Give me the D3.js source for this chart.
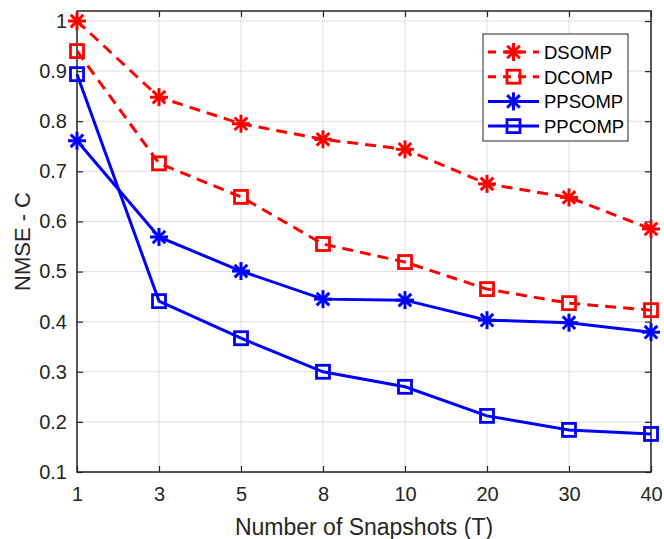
<!DOCTYPE html>
<html><head><meta charset="utf-8">
<script src="https://cdn.jsdelivr.net/npm/d3@7"></script>
<style>body{margin:0;background:#fff;} text{font-family:"Liberation Sans",Arial,sans-serif;}</style>
</head><body>
<svg id="c" width="664" height="539"></svg>
<script>
const categories = ["1","3","5","8","10","20","30","40"];
const dsomp  = [1.000,0.848,0.795,0.764,0.744,0.675,0.648,0.585];
const dcomp  = [0.940,0.716,0.649,0.555,0.519,0.465,0.437,0.423];
const ppsomp = [0.761,0.569,0.501,0.445,0.443,0.403,0.398,0.379];
const ppcomp = [0.894,0.441,0.367,0.300,0.270,0.212,0.184,0.176];
const yTicks = [0.1,0.2,0.3,0.4,0.5,0.6,0.7,0.8,0.9,1];
const seriesNames = ["DSOMP","DCOMP","PPSOMP","PPCOMP"];

const series = [
  {name:seriesNames[0], values:dsomp,  color:"#ff0000", dash:"11,7", marker:"star"},
  {name:seriesNames[1], values:dcomp,  color:"#ff0000", dash:"11,7", marker:"square"},
  {name:seriesNames[2], values:ppsomp, color:"#0000ff", dash:null,   marker:"star"},
  {name:seriesNames[3], values:ppcomp, color:"#0000ff", dash:null,   marker:"square"}
];

const svg = d3.select("#c");
const L=77, R=651, T=11, B=472;
const x = d3.scalePoint().domain(categories).range([L,R]);
const y = d3.scaleLinear().domain([0.1,1.02]).range([B,T]);
const axisColor="#262626";

// grid
const g = svg.append("g");
g.selectAll(".gx").data(categories).enter().append("line")
  .attr("x1",d=>x(d)).attr("x2",d=>x(d)).attr("y1",T).attr("y2",B)
  .attr("stroke","#dfdfdf").attr("stroke-width",1);
g.selectAll(".gy").data(yTicks).enter().append("line")
  .attr("x1",L).attr("x2",R).attr("y1",d=>y(d)).attr("y2",d=>y(d))
  .attr("stroke","#dfdfdf").attr("stroke-width",1);

// axes
const xAxis = d3.axisBottom(x).tickSizeInner(-6).tickSizeOuter(0).tickPadding(15);
const yAxis = d3.axisLeft(y).tickValues(yTicks).tickFormat(d3.format("")).tickSizeInner(-6).tickSizeOuter(0).tickPadding(10);
const gx = svg.append("g").attr("transform",`translate(0,${B})`).call(xAxis);
const gy = svg.append("g").attr("transform",`translate(${L},0)`).call(yAxis);
const gxt = svg.append("g").attr("transform",`translate(0,${T})`).call(d3.axisTop(x).tickSizeInner(-6).tickSizeOuter(0).tickFormat(""));
const gyr = svg.append("g").attr("transform",`translate(${R},0)`).call(d3.axisRight(y).tickValues(yTicks).tickSizeInner(-6).tickSizeOuter(0).tickFormat(""));
[gx,gy,gxt,gyr].forEach(a=>{
  a.select(".domain").remove();
  a.selectAll(".tick line").attr("stroke",axisColor).attr("stroke-width",1.2);
  a.selectAll("text").attr("fill",axisColor).style("font-size","20px").style("font-family","'Liberation Sans',Arial,sans-serif");
});
svg.append("rect").attr("x",L).attr("y",T).attr("width",R-L).attr("height",B-T)
  .attr("fill","none").attr("stroke",axisColor).attr("stroke-width",1.5);

// labels
svg.append("text").attr("x",(L+R)/2).attr("y",535).attr("text-anchor","middle")
  .attr("fill",axisColor).style("font-size","23px").text("Number of Snapshots (T)");
svg.append("text").attr("transform",`translate(30,${(T+B)/2}) rotate(-90)`).attr("text-anchor","middle")
  .attr("fill",axisColor).style("font-size","22px").text("NMSE - C");

function drawMarker(sel, type, color, cx, cy){
  if(type==="star"){
    const r=9;
    const gg = sel.append("g").attr("transform",`translate(${cx},${cy})`);
    [[0,-r,0,r],[-r,0,r,0],[-r*0.7,-r*0.7,r*0.7,r*0.7],[-r*0.7,r*0.7,r*0.7,-r*0.7]].forEach(s=>{
      gg.append("line").attr("x1",s[0]).attr("y1",s[1]).attr("x2",s[2]).attr("y2",s[3])
        .attr("stroke",color).attr("stroke-width",3);
    });
  } else {
    const s=13;
    sel.append("rect").attr("x",cx-s/2).attr("y",cy-s/2).attr("width",s).attr("height",s)
      .attr("fill","none").attr("stroke",color).attr("stroke-width",2.8);
  }
}

const line = d3.line().x((d,i)=>x(categories[i])).y(d=>y(d));
const plot = svg.append("g");
series.forEach(s=>{
  plot.append("path").attr("d",line(s.values)).attr("fill","none")
    .attr("stroke",s.color).attr("stroke-width",3).attr("stroke-dasharray",s.dash);
  s.values.forEach((v,i)=>drawMarker(plot,s.marker,s.color,x(categories[i]),y(v)));
});

// legend
const lg = svg.append("g");
lg.append("rect").attr("x",483).attr("y",34).attr("width",145).attr("height",107)
  .attr("fill","#fff").attr("stroke",axisColor).attr("stroke-width",1);
series.forEach((s,i)=>{
  const yy = 52 + i*24.7;
  lg.append("line").attr("x1",488).attr("x2",539).attr("y1",yy).attr("y2",yy)
    .attr("stroke",s.color).attr("stroke-width",3).attr("stroke-dasharray",s.dash?"8,7":null);
  drawMarker(lg,s.marker,s.color,513.5,yy);
  lg.append("text").attr("x",544).attr("y",yy+7).attr("fill","#000")
    .style("font-size","18.5px").text(s.name);
});
</script>
</body></html>
